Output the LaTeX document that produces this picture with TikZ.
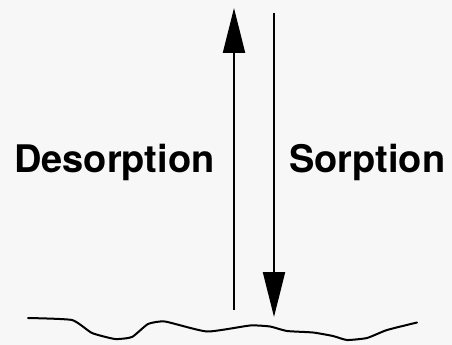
\documentclass[tikz,border=0pt]{standalone}
\usepackage{fontspec}
\setmainfont{TeX Gyre Heros}
\usetikzlibrary{arrows.meta}
\tikzset{
  label text/.style={font=\fontsize{38}{40}\selectfont\bfseries, inner sep=0pt, anchor=base west},
  flux/.style={line width=2pt, -{Triangle[length=45pt,width=22pt]}},
  surface/.style={line width=2pt, line join=round, line cap=round}
}
\begin{document}
\begin{tikzpicture}[x=1pt,y=-1pt]
\fill[white!97!black] (0,0) rectangle (452,345);
\useasboundingbox (0,0) rectangle (452,345);
\coordinate (upS) at (234,310);
\coordinate (upE) at (234,8);
\coordinate (dnS) at (274,13);
\coordinate (dnE) at (274,317);
\draw[flux] (upS) -- (upE);
\draw[flux] (dnS) -- (dnE);
\node[label text] (desorp) at (14,172) {Desorption};
\node[label text] (sorp) at (289,172) {Sorption};
\draw[surface] plot[smooth, tension=0.3] coordinates {(28,318) (72,320) (92,333) (115,339) (132,337) (148,324) (165,321.5) (207,331.5) (250,325.5) (270,326.5) (287,331) (313,332.5) (333,336) (347,340) (367,338) (387,330) (417,322.5)};
\end{tikzpicture}
\end{document}
